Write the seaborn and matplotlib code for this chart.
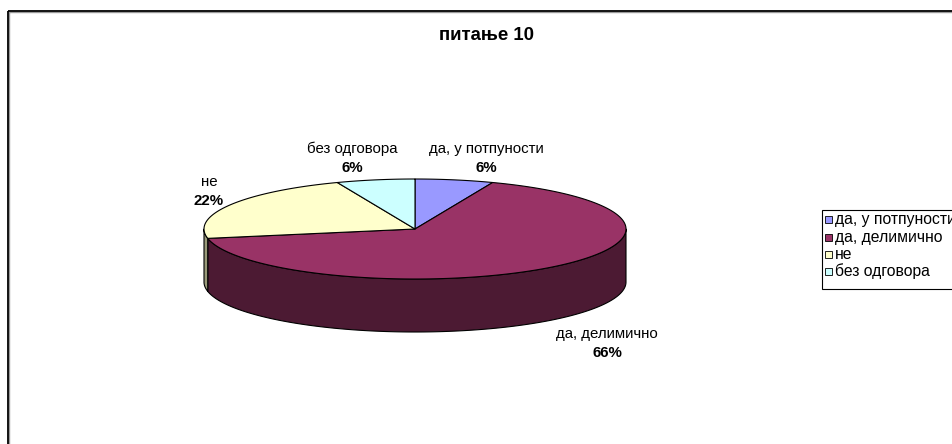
import numpy as np
import matplotlib
matplotlib.use("Agg")
import matplotlib.pyplot as plt
from matplotlib.patches import Polygon, Rectangle
import seaborn as sns

# ---- data ----
categories = ["да, у потпуности", "да, делимично", "не", "без одговора"]
values = [6, 66, 22, 6]
pct_labels = ["6%", "66%", "22%", "6%"]
title = "питање 10"

sns.set_theme(style="white")
plt.rcParams['font.family'] = ['Liberation Sans', 'DejaVu Sans']

top_colors = ["#9999FF", "#993366", "#FFFFCC", "#CCFFFF"]
side_colors = ["#4C4C80", "#4C1A33", "#9A9A7A", "#668080"]

fig = plt.figure(figsize=(9.53, 4.44), dpi=100)
fig.patch.set_facecolor("white")
ax = fig.add_axes([0, 0, 1, 1])
ax.set_xlim(0, 953)
ax.set_ylim(444, 0)
ax.axis('off')

# chart frame
ax.add_patch(Rectangle((9, 12), 1000, 500, fill=False, ec="#9a9a9a", lw=1.0, zorder=1))
ax.add_patch(Rectangle((8, 11), 1000, 500, fill=False, ec="black", lw=1.3, zorder=1))

# 3D pie geometry
cx, cy, rx, ry, depth = 415, 229, 211, 50, 53
fr = np.array(values, dtype=float) / sum(values)
bounds = np.concatenate([[0], np.cumsum(fr)]) * 2 * np.pi


def pt(t, dy=0.0):
    return cx + rx * np.sin(t), cy - ry * np.cos(t) + dy


# side walls (front-facing portion only)
for i in range(len(values)):
    a0, a1 = bounds[i], bounds[i + 1]
    lo, hi = max(a0, np.pi / 2), min(a1, 3 * np.pi / 2)
    if hi > lo:
        t = np.linspace(lo, hi, 300)
        xs, ys = pt(t)
        poly = list(zip(xs, ys)) + list(zip(xs[::-1], (ys + depth)[::-1]))
        ax.add_patch(Polygon(poly, closed=True, fc=side_colors[i], ec="black",
                             lw=0.8, joinstyle="round", zorder=2))

# top faces
for i in range(len(values)):
    a0, a1 = bounds[i], bounds[i + 1]
    t = np.linspace(a0, a1, 400)
    xs, ys = pt(t)
    poly = [(cx, cy)] + list(zip(xs, ys))
    ax.add_patch(Polygon(poly, closed=True, fc=top_colors[i], ec="black",
                         lw=0.8, joinstyle="round", zorder=3))

# data labels (category + bold percent)
label_pos = [(486, 149), (607, 334), (209, 182), (352, 149)]
fs = 10.8
for (lx, ly), name, pct in zip(label_pos, categories, pct_labels):
    ax.text(lx, ly, name, ha="center", va="center", fontsize=fs, color="black", zorder=5)
    ax.text(lx, ly + 18.5, pct, ha="center", va="center", fontsize=fs,
            fontweight="bold", color="black", zorder=5)

# title
ax.text(487, 36, title, ha="center", va="center", fontsize=13.4,
        fontweight="bold", color="black", zorder=5)

# legend (cut off at the right edge, like the reference)
lg_x, lg_y, lg_h = 822, 210, 79
ax.add_patch(Rectangle((lg_x, lg_y), 300, lg_h, fc="white", ec="black", lw=0.8, zorder=4))
rows = [219, 237, 254, 271]
for ry_, name, col in zip(rows, categories, top_colors):
    ax.add_patch(Rectangle((lg_x + 3.5, ry_ - 3.5), 7, 7, fc=col, ec="black", lw=0.6, zorder=5))
    ax.text(lg_x + 13, ry_, name, ha="left", va="center", fontsize=11.3, color="black", zorder=5)

fig.savefig("out.png", dpi=100, facecolor="white")
